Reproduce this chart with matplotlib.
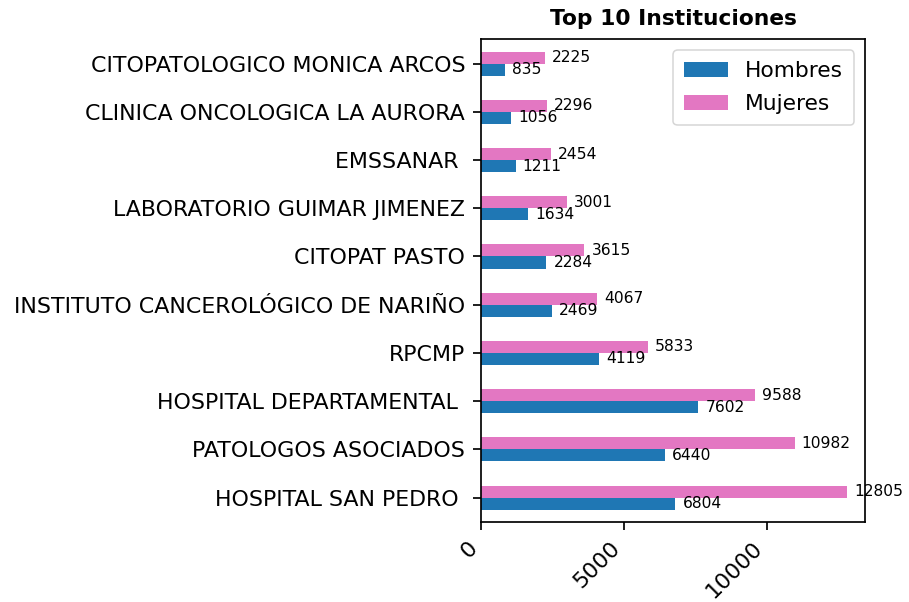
import numpy as np
import matplotlib
matplotlib.use("Agg")
import matplotlib.pyplot as plt

# Data (bottom to top, as drawn by barh)
instituciones = ["HOSPITAL SAN PEDRO ", "PATOLOGOS ASOCIADOS", "HOSPITAL DEPARTAMENTAL ",
                 "RPCMP", "INSTITUTO CANCEROLÓGICO DE NARIÑO", "CITOPAT PASTO",
                 "LABORATORIO GUIMAR JIMENEZ", "EMSSANAR ", "CLINICA ONCOLOGICA LA AURORA",
                 "CITOPATOLOGICO MONICA ARCOS"]
hombres = [6804, 6440, 7602, 4119, 2469, 2284, 1634, 1211, 1056, 835]
mujeres = [12805, 10982, 9588, 5833, 4067, 3615, 3001, 2454, 2296, 2225]

fig = plt.figure(figsize=(909 / 112, 602 / 112), dpi=112)
ax = fig.add_axes([0.5292, 0.1334, 0.4224, 0.8010])

y = np.arange(len(instituciones))
h = 0.25
ax.barh(y - h / 2, hombres, height=h, color="#1f77b4", label="Hombres")
ax.barh(y + h / 2, mujeres, height=h, color="#e377c2", label="Mujeres")

# value labels next to each bar
for i in range(len(y)):
    ax.text(hombres[i] + 250, y[i] - h / 2, str(hombres[i]), va="center", fontsize=10)
    ax.text(mujeres[i] + 250, y[i] + h / 2, str(mujeres[i]), va="center", fontsize=10)

ax.set_yticks(y)
ax.set_yticklabels(instituciones, fontsize=14.2)
ax.set_ylim(-0.5, 9.5)
ax.set_xticks([0, 5000, 10000])
ax.set_xticklabels(["0", "5000", "10000"], rotation=45, ha="right", fontsize=14.2)
ax.tick_params(length=5.2, width=1.1, pad=5.0)
for s in ax.spines.values():
    s.set_linewidth(1.1)
ax.set_title("Top 10 Instituciones", fontsize=14, fontweight="bold", pad=9)
ax.legend(loc="upper right", fontsize=14, borderpad=0.5, labelspacing=0.6)

fig.savefig("out.png", dpi=112)
